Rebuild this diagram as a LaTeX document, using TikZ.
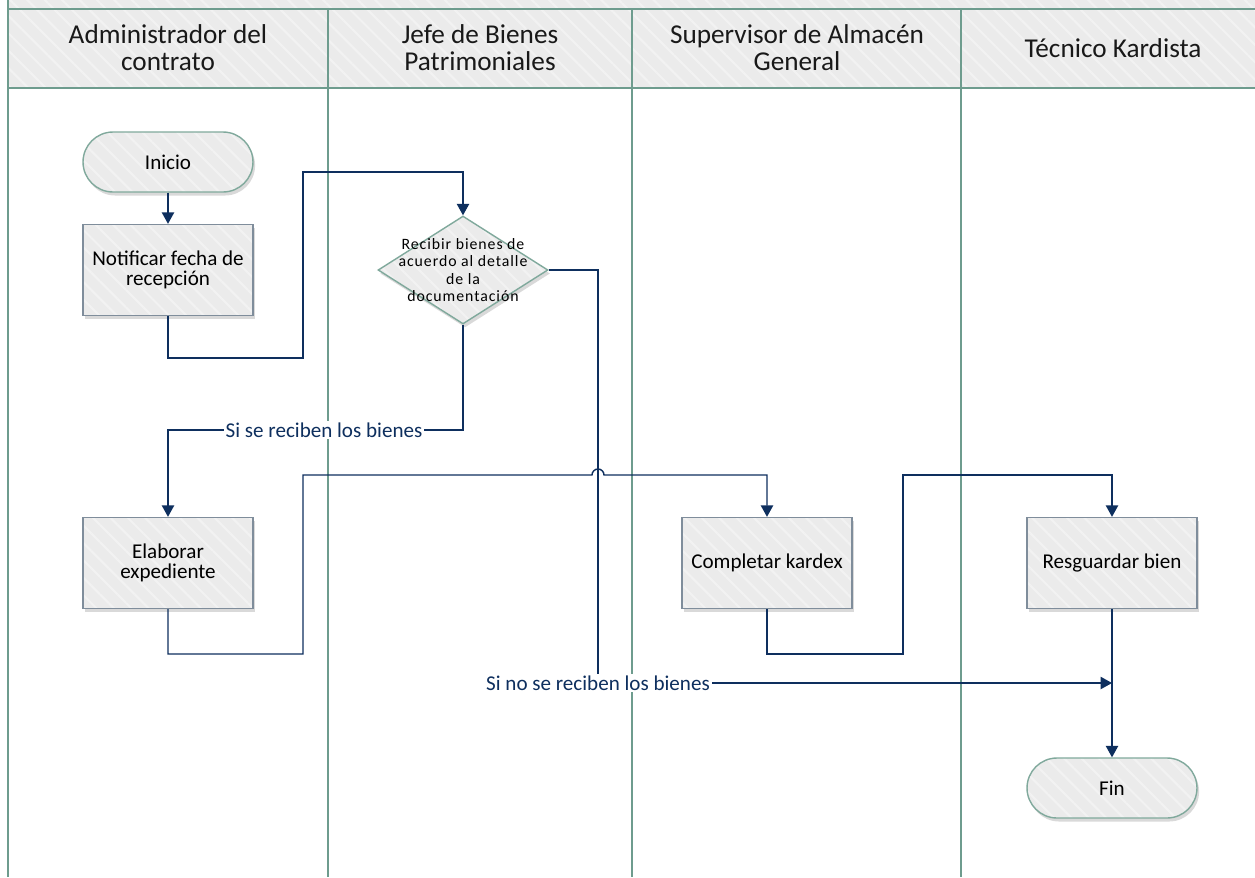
\documentclass[tikz,border=0pt]{standalone}
\usepackage{fontspec}
\setmainfont{Carlito}
\usetikzlibrary{shapes.geometric,arrows.meta,shadows,patterns.meta}

\definecolor{lanegreen}{HTML}{6E9C8E}
\definecolor{flownavy}{HTML}{0E2F5E}
\definecolor{boxgray}{HTML}{EBEBEB}
\definecolor{boxedge}{HTML}{7F8D9B}
\definecolor{termedge}{HTML}{80A99C}

\tikzset{
	hatch/.style={preaction={fill=boxgray}, preaction={pattern={Lines[angle=-45,distance=7pt,line width=1.2pt]},pattern color=white!35!boxgray}},
	shade box/.style={drop shadow={shadow xshift=1.2pt,shadow yshift=-2pt,opacity=0.15,fill=black}},
	lane/.style={draw=lanegreen, line width=1.2pt},
	lanetitle/.style={font=\fontsize{15.5}{15.5}\selectfont, align=center, text=black!90},
	task/.style={rectangle, shade box, hatch, draw=boxedge, line width=0.8pt,
		minimum width=3.4cm, minimum height=1.82cm, align=center, inner sep=1pt,
		font=\fontsize{12}{11.5}\selectfont},
	terminal/.style={rectangle, rounded corners=0.6cm, shade box, hatch, draw=termedge, line width=0.8pt,
		minimum width=3.4cm, minimum height=1.2cm, align=center, font=\fontsize{12}{11.5}\selectfont},
	decision/.style={diamond, shade box, hatch, draw=termedge, line width=0.8pt,
		minimum width=3.4cm, minimum height=2.16cm, inner sep=0pt},
	dectext/.style={align=center, font=\fontsize{9}{10}\selectfont\addfontfeatures{LetterSpace=6}},
	flow/.style={draw=flownavy, line width=0.8pt, -{Triangle[width=7pt,length=6.5pt]}},
	flowlabel/.style={fill=white, inner sep=1pt, text=flownavy, font=\fontsize{12}{12}\selectfont}
}

\begin{document}
\begin{tikzpicture}[x=0.02cm, y=-0.02cm]
	\useasboundingbox (0,0) rectangle (1255,877);
	\fill[white] (0,0) rectangle (1255,877);

	% lanes and header row
	\path[hatch] (8,0) rectangle (1262,9);
	\path[hatch] (8,9) rectangle (1262,88);
	\draw[lane] (1262,9) -- (8,9) (1262,88) -- (8,88);
	\draw[lane] (8,0) -- (8,877);
	\foreach \xl in {328,632,961}
		\draw[lane] (\xl,9) -- (\xl,877);

	\node[lanetitle] (t1) at (168,48) {Administrador del\\contrato};
	\node[lanetitle] (t2) at (480,48) {Jefe de Bienes\\Patrimoniales};
	\node[lanetitle] (t3) at (797,48) {Supervisor de Almacén\\General};
	\node[lanetitle] (t4) at (1113,48) {Técnico Kardista};

	% steps
	\node[terminal] (ini) at (168,162) {Inicio};
	\node[task] (notif) at (168,270) {Notificar fecha de\\recepción};
	\node[decision] (dec) at (463,270) {};
	\node[dectext] (dectxt) at (dec) {Recibir bienes de\\acuerdo al detalle\\de la\\documentación};
	\node[task] (elab) at (168,563) {Elaborar\\expediente};
	\node[task] (comp) at (767,563) {Completar kardex};
	\node[task] (resg) at (1112,563) {Resguardar bien};
	\node[terminal] (fin) at (1112,788) {Fin};
	\coordinate (nollega) at (1112,683);

	% connectors
	\draw[flow] (ini) -- (notif);
	\draw[flow] (notif.south) |- (303,358) -- (303,172) -| (dec.north);
	\draw[flow] (dec.south) |- (elab.north |- 0,430) -- (elab.north);
	\draw[flow] (dec.east) -| (598,683) -- (nollega);
	\draw[flow] (elab.south) |- (303,654) -- (303,475) -- (592,475)
		arc[start angle=180, end angle=360, radius=6] -| (comp.north);
	\draw[flow] (comp.south) |- (903,654) -- (903,475) -| (resg.north);
	\draw[flow] (resg) -- (fin);

	\node[flowlabel] (si) at (324,430) {Si se reciben los bienes};
	\node[flowlabel] (sino) at (598,683) {Si no se reciben los bienes};
\end{tikzpicture}
\end{document}
